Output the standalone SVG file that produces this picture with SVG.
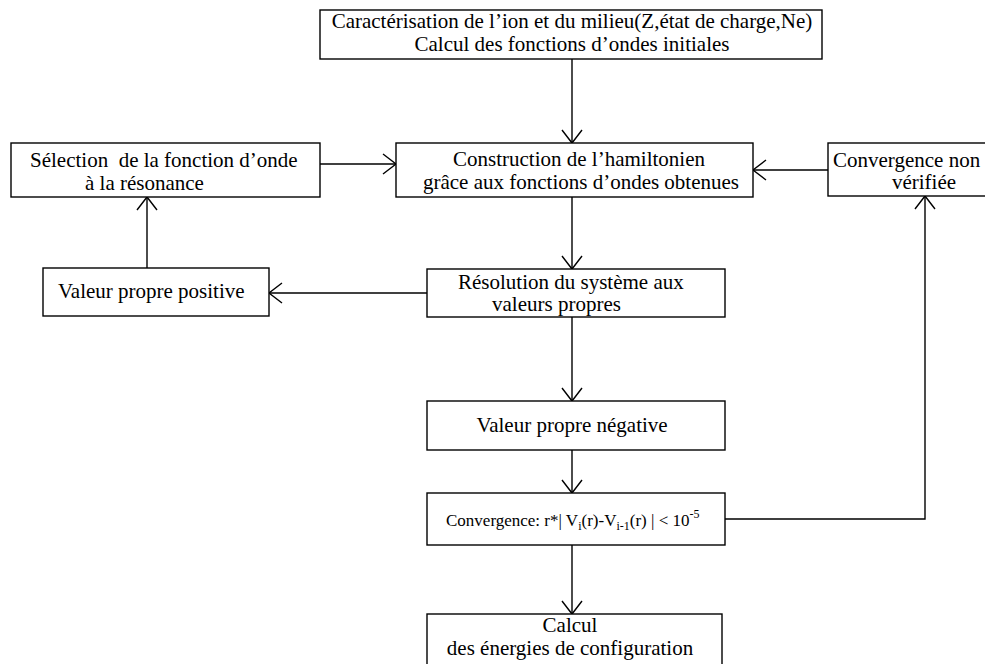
<svg xmlns="http://www.w3.org/2000/svg" width="985" height="664" viewBox="0 0 985 664">
<style>
.box{fill:#fff;stroke:#000;stroke-width:1.4}
.t{font-family:"Liberation Serif","Times New Roman",serif;font-size:21px;fill:#000}
.s{font-family:"Liberation Serif","Times New Roman",serif;font-size:17px;fill:#000}
.c{fill:none;stroke:#000;stroke-width:1.4}
</style>
<defs>
<marker id="ah" viewBox="-15 -11 17 22" markerWidth="17" markerHeight="22" refX="0" refY="0" orient="auto" markerUnits="userSpaceOnUse" overflow="visible">
<path d="M-13,-10 L0,0 L-13,10" fill="none" stroke="#000" stroke-width="1.4"/>
</marker>
</defs>
<rect width="985" height="664" fill="#fff"/>
<g id="connectors">
<line class="c" x1="572" y1="59" x2="572" y2="143" marker-end="url(#ah)"/>
<line class="c" x1="320" y1="164" x2="396" y2="164" marker-end="url(#ah)"/>
<line class="c" x1="828" y1="170" x2="753" y2="170" marker-end="url(#ah)"/>
<line class="c" x1="147" y1="268" x2="147" y2="197" marker-end="url(#ah)"/>
<line class="c" x1="572" y1="197" x2="572" y2="269" marker-end="url(#ah)"/>
<line class="c" x1="427" y1="293" x2="269" y2="293" marker-end="url(#ah)"/>
<line class="c" x1="572" y1="317" x2="572" y2="401" marker-end="url(#ah)"/>
<line class="c" x1="572" y1="450" x2="572" y2="493" marker-end="url(#ah)"/>
<polyline class="c" points="725,519 925,519 925,196" marker-end="url(#ah)"/>
<line class="c" x1="572" y1="545" x2="572" y2="614" marker-end="url(#ah)"/>
</g>
<g id="n-caracterisation">
<rect class="box" x="320" y="10" width="502" height="49"/>
<text class="t" x="572" y="28" text-anchor="middle">Caractérisation de l’ion et du milieu(Z,état de charge,Ne)</text>
<text class="t" x="572" y="51" text-anchor="middle">Calcul des fonctions d’ondes initiales</text>
</g>
<g id="n-selection">
<rect class="box" x="11" y="143" width="309" height="54"/>
<text class="t" x="30" y="167" xml:space="preserve">Sélection  de la fonction d’onde</text>
<text class="t" x="85" y="190">à la résonance</text>
</g>
<g id="n-construction">
<rect class="box" x="396" y="143" width="357" height="54"/>
<text class="t" x="579" y="166" text-anchor="middle">Construction de l’hamiltonien</text>
<text class="t" x="581" y="189" text-anchor="middle">grâce aux fonctions d’ondes obtenues</text>
</g>
<g id="n-nonverifiee">
<rect class="box" x="828" y="143" width="170" height="53"/>
<text class="t" x="833" y="167">Convergence non</text>
<text class="t" x="924" y="189" text-anchor="middle">vérifiée</text>
</g>
<g id="n-positive">
<rect class="box" x="43" y="268" width="226" height="48"/>
<text class="t" x="58" y="298">Valeur propre positive</text>
</g>
<g id="n-resolution">
<rect class="box" x="427" y="269" width="298" height="48"/>
<text class="t" x="458" y="289">Résolution du système aux</text>
<text class="t" x="492" y="311">valeurs propres</text>
</g>
<g id="n-negative">
<rect class="box" x="427" y="401" width="298" height="49"/>
<text class="t" x="572" y="432" text-anchor="middle">Valeur propre négative</text>
</g>
<g id="n-convergence">
<rect class="box" x="427" y="493" width="298" height="52"/>
<text class="s" x="446" y="526">Convergence: r*| V<tspan font-size="12" dy="4">i</tspan><tspan dy="-4">(r)-V</tspan><tspan font-size="12" dy="4">i-1</tspan><tspan dy="-4">(r) | &lt; 10</tspan><tspan font-size="12" dy="-8">-5</tspan></text>
</g>
<g id="n-calcul">
<rect class="box" x="427" y="614" width="295" height="60"/>
<text class="t" x="570" y="632" text-anchor="middle">Calcul</text>
<text class="t" x="570" y="655" text-anchor="middle">des énergies de configuration</text>
</g>
</svg>
